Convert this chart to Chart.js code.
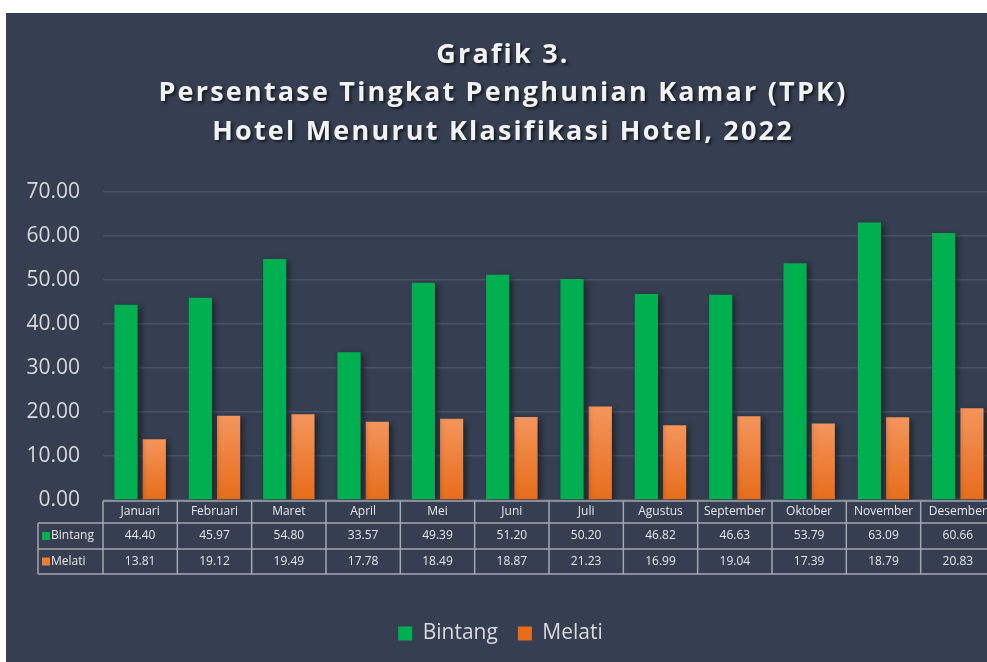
<!DOCTYPE html>
<html>
<head>
<meta charset="utf-8">
<script src="https://cdn.jsdelivr.net/npm/chart.js@4.4.0/dist/chart.umd.min.js"></script>
<style>
  html, body { margin: 0; padding: 0; background: #ffffff; overflow: hidden; }
  #panel { position: absolute; left: 6px; top: 13px; width: 1000px; height: 649px; background: #353f51; }
</style>
</head>
<body>
<div id="panel"><canvas id="chart-area"></canvas></div>
<script>
var months = ['Januari', 'Februari', 'Maret', 'April', 'Mei', 'Juni', 'Juli', 'Agustus', 'September', 'Oktober', 'November', 'Desember'];
var bintang = [44.40, 45.97, 54.80, 33.57, 49.39, 51.20, 50.20, 46.82, 46.63, 53.79, 63.09, 60.66];
var melati = [13.81, 19.12, 19.49, 17.78, 18.49, 18.87, 21.23, 16.99, 19.04, 17.39, 18.79, 20.83];
var titleLines = ['Grafik 3.', 'Persentase Tingkat Penghunian Kamar (TPK)', 'Hotel Menurut Klasifikasi Hotel, 2022'];

var green = '#00b050';
var orange = '#ed7d31';
var textColor = '#d9d9d9';

// orange bars: lighter at the top, darker at the bottom of each bar
var orangeFill = function(c) {
	if (c.type !== 'data' || !c.chart.chartArea) return orange;
	var y = c.chart.scales.y;
	var top = y.getPixelForValue(c.raw);
	var bottom = y.getPixelForValue(0);
	var g = c.chart.ctx.createLinearGradient(0, top, 0, bottom);
	g.addColorStop(0, '#f4955c');
	g.addColorStop(1, '#e66c1a');
	return g;
};

var barShadow = {
	id: 'barShadow',
	beforeDatasetDraw: function(chart) {
		var ctx = chart.ctx;
		ctx.save();
		ctx.shadowColor = 'rgba(0,0,0,0.45)';
		ctx.shadowBlur = 6;
		ctx.shadowOffsetX = 3;
		ctx.shadowOffsetY = 2;
	},
	afterDatasetDraw: function(chart) {
		chart.ctx.restore();
	}
};

var titleText = {
	id: 'titleText',
	afterDraw: function(chart) {
		var ctx = chart.ctx;
		ctx.save();
		ctx.font = 'bold 27px "Open Sans"';
		ctx.letterSpacing = '2.2px';
		ctx.textAlign = 'center';
		ctx.textBaseline = 'alphabetic';
		ctx.fillStyle = '#f2f2f2';
		ctx.shadowColor = 'rgba(0,0,0,0.6)';
		ctx.shadowBlur = 3;
		ctx.shadowOffsetX = 2;
		ctx.shadowOffsetY = 2;
		var base = [50, 88, 127];
		titleLines.forEach(function(t, i) {
			ctx.fillText(t, 497, base[i]);
		});
		ctx.restore();
	}
};

var dataTable = {
	id: 'dataTable',
	afterDraw: function(chart) {
		var ctx = chart.ctx;
		var x = chart.scales.x;
		var area = chart.chartArea;
		var w = x.width / months.length;
		var rows = [area.bottom + 1, area.bottom + 23, area.bottom + 49, area.bottom + 74];
		var labelLeft = 32;
		ctx.save();
		ctx.strokeStyle = '#a3a8b0';
		ctx.lineWidth = 1.5;
		ctx.beginPath();
		// horizontal lines
		ctx.moveTo(area.left, rows[0]); ctx.lineTo(area.right, rows[0]);
		for (var r = 1; r < rows.length; r++) {
			ctx.moveTo(labelLeft, rows[r]); ctx.lineTo(area.right, rows[r]);
		}
		// vertical lines
		ctx.moveTo(labelLeft, rows[1]); ctx.lineTo(labelLeft, rows[3]);
		for (var i = 0; i <= months.length; i++) {
			var vx = x.getPixelForValue(i) - w / 2;
			ctx.moveTo(vx, rows[0]); ctx.lineTo(vx, rows[3]);
		}
		ctx.stroke();

		ctx.fillStyle = '#e6e6e6';
		ctx.font = '12px "Open Sans"';
		ctx.textAlign = 'center';
		ctx.textBaseline = 'middle';
		for (var j = 0; j < months.length; j++) {
			var cx = x.getPixelForValue(j);
			ctx.fillText(months[j], cx, (rows[0] + rows[1]) / 2);
			ctx.fillText(bintang[j].toFixed(2), cx, (rows[1] + rows[2]) / 2);
			ctx.fillText(melati[j].toFixed(2), cx, (rows[2] + rows[3]) / 2);
		}
		// row labels
		var names = ['Bintang', 'Melati'];
		var cols = [green, orange];
		ctx.textAlign = 'left';
		for (var k = 0; k < 2; k++) {
			var cy = (rows[k + 1] + rows[k + 2]) / 2;
			ctx.fillStyle = cols[k];
			ctx.fillRect(labelLeft + 4, cy - 4, 8, 8);
			ctx.fillStyle = '#e6e6e6';
			ctx.fillText(names[k], labelLeft + 13, cy);
		}
		ctx.restore();
	}
};

var config = {
	type: 'bar',
	data: {
		labels: months,
		datasets: [{
			label: 'Bintang',
			data: bintang,
			backgroundColor: green,
			categoryPercentage: 0.76,
			barPercentage: 0.82
		}, {
			label: 'Melati',
			data: melati,
			backgroundColor: orangeFill,
			categoryPercentage: 0.76,
			barPercentage: 0.82
		}]
	},
	options: {
		responsive: true,
		maintainAspectRatio: false,
		animation: false,
		layout: {
			padding: { top: 179, right: 11, left: 0, bottom: 8 }
		},
		scales: {
			x: {
				grid: { display: false },
				border: { display: false },
				ticks: { display: false },
				afterFit: function(scale) { scale.height = 103; }
			},
			y: {
				min: 0,
				max: 70,
				ticks: {
					stepSize: 10,
					color: textColor,
					padding: 23,
					font: { family: 'Open Sans', size: 21 },
					callback: function(v) { return Number(v).toFixed(2); }
				},
				grid: { color: '#4a5467', lineWidth: 1.5, drawTicks: false },
				border: { display: false },
				afterFit: function(scale) { scale.width = 97; }
			}
		},
		plugins: {
			legend: {
				position: 'bottom',
				labels: {
					color: textColor,
					boxWidth: 14,
					boxHeight: 14,
					padding: 20,
					font: { family: 'Open Sans', size: 21 }
				}
			},
			title: { display: false },
			tooltip: { enabled: false }
		}
	},
	plugins: [barShadow, dataTable, titleText]
};

window.onload = function() {
	var ctx = document.getElementById('chart-area').getContext('2d');
	window.myBar = new Chart(ctx, config);
};
</script>
</body>
</html>
